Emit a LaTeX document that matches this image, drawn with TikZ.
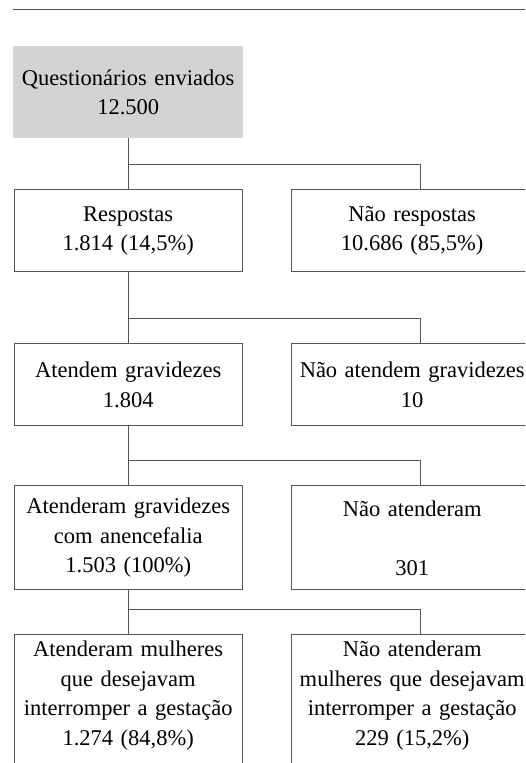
\documentclass[tikz,border=0pt]{standalone}
\usepackage{fontspec}
\setmainfont{Liberation Serif}[WordSpace=1.5]
\usepackage{tikz}
\definecolor{boxgray}{RGB}{210,211,213}
\definecolor{linegray}{RGB}{85,85,85}
\usetikzlibrary{positioning}

\begin{document}
\begin{tikzpicture}[
    x=1pt, y=-1pt,
    font=\fontsize{22.5}{29.5}\selectfont,
    box/.style={rectangle, draw=linegray, line width=1pt, text width=220pt,
                minimum height=82pt, align=center, inner sep=4pt, text=black},
    widebox/.style={box, text width=234pt},
    topbox/.style={rectangle, fill=boxgray, text width=222pt, minimum height=92pt,
                   align=center, inner sep=4pt, text=black},
    link/.style={draw=linegray, line width=1pt}
]
    \useasboundingbox (0,0) rectangle (525,763);
    \clip (0,0) rectangle (525,763);
    \draw[link] (13,9) -- (525,9);

    \node[topbox, anchor=north west] (quest) at (13,46) {Questionários enviados\\12.500};
    \node[box, below=51pt of quest] (resp) {Respostas\\1.814 (14,5\%)};
    \node[widebox, right=48pt of resp] (nresp) {Não respostas\\10.686 (85,5\%)};
    \node[box, below=71pt of resp] (atend) {Atendem gravidezes\\1.804};
    \node[widebox, right=48pt of atend] (natend) {Não atendem gravidezes\\10};
    \node[box, minimum height=104pt, below=59pt of atend] (anenc) {Atenderam gravidezes\\com anencefalia\\1.503 (100\%)};
    \node[widebox, minimum height=104pt, right=48pt of anenc] (nanenc) {Não atenderam\\~\\301};
    \node[box, inner ysep=6pt, text depth=125pt, below=44pt of anenc] (interr) {Atenderam mulheres\\que desejavam\\interromper a gestação\\1.274 (84,8\%)};
    \node[widebox, inner ysep=6pt, text depth=125pt, right=48pt of interr] (ninterr) {Não atenderam\\mulheres que desejavam\\interromper a gestação\\229 (15,2\%)};

    % branch points
    \coordinate (j1) at ([yshift=-26pt]quest.south);
    \coordinate (j2) at ([yshift=-46pt]resp.south);
    \coordinate (j3) at ([yshift=-34pt]atend.south);
    \coordinate (j4) at ([yshift=-19pt]anenc.south);

    \draw[link] (quest.south) -- (resp.north);
    \draw[link] (j1) -| ([xshift=8pt]nresp.north);
    \draw[link] (resp.south) -- (atend.north);
    \draw[link] (j2) -| ([xshift=8pt]natend.north);
    \draw[link] (atend.south) -- (anenc.north);
    \draw[link] (j3) -| ([xshift=8pt]nanenc.north);
    \draw[link] (anenc.south) -- (interr.north);
    \draw[link] (j4) -| ([xshift=8pt]ninterr.north);
\end{tikzpicture}
\end{document}
